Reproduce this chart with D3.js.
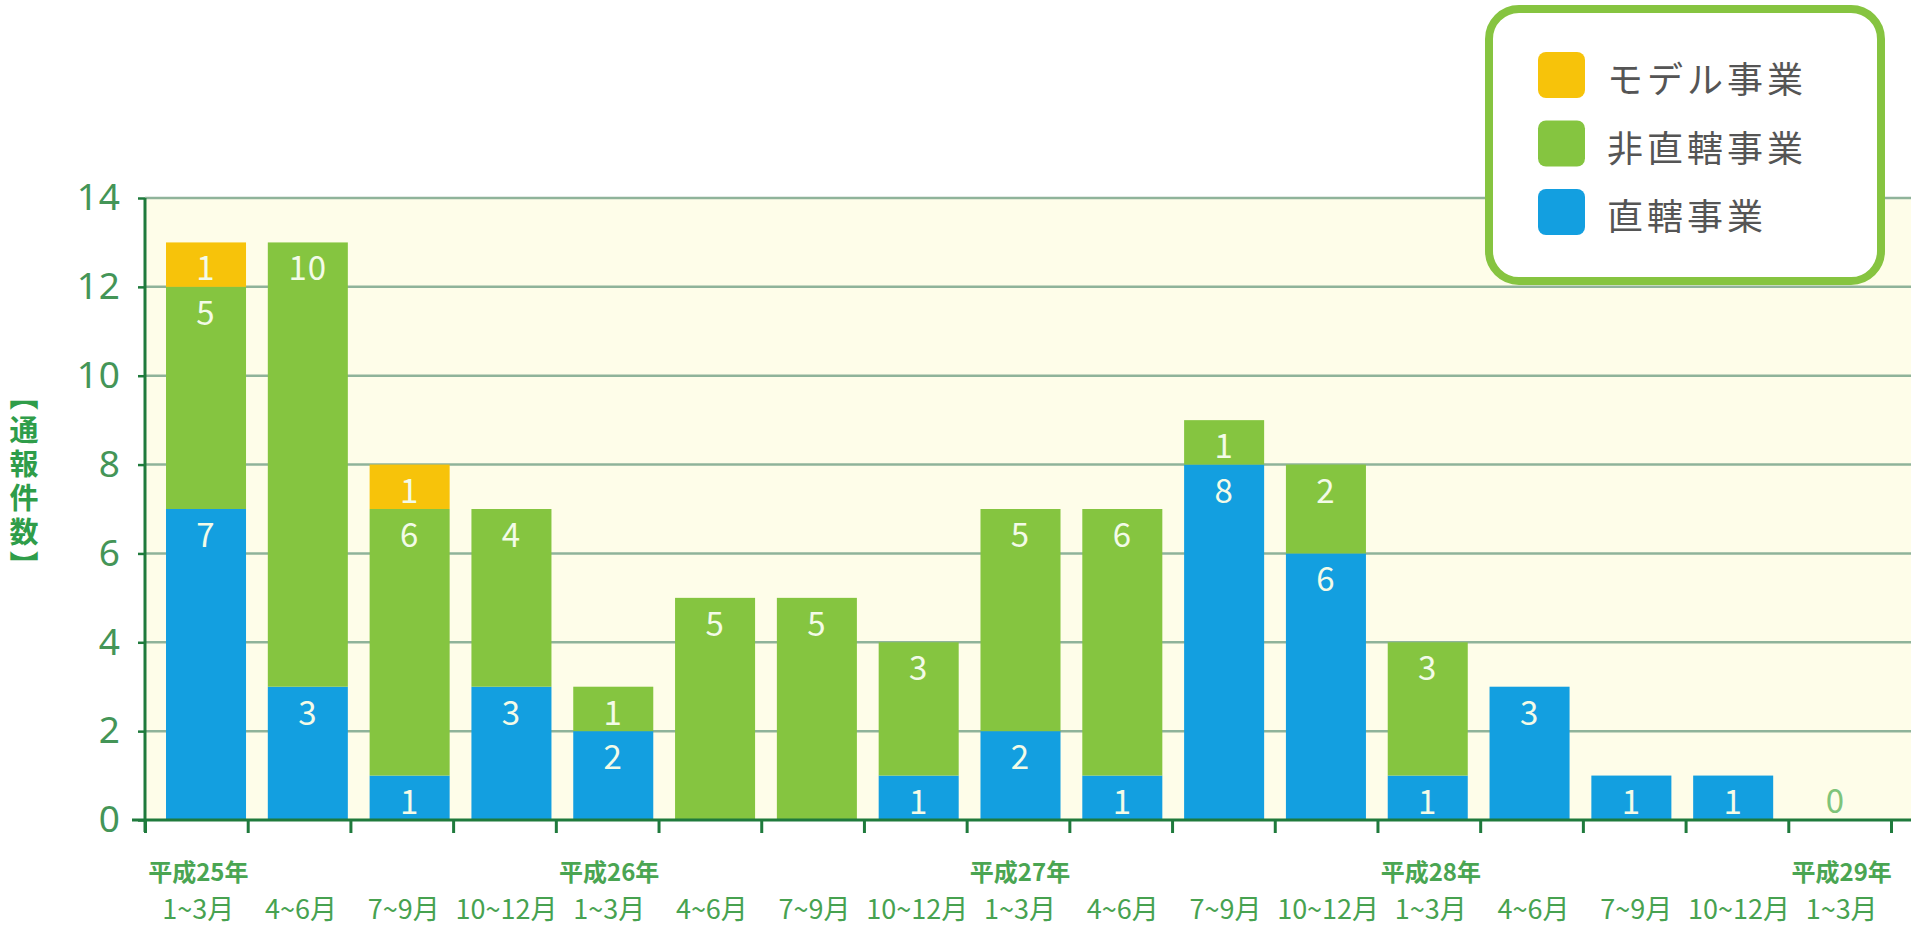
<!DOCTYPE html>
<html>
<head>
<meta charset="utf-8">
<script src="https://cdn.jsdelivr.net/npm/d3@7"></script>
<style>
  body { margin: 0; background: #fff; }
  svg { display: block; font-family: "Noto Sans CJK JP", "Noto Sans", sans-serif; }
</style>
</head>
<body>
<svg id="chart" width="1921" height="929"></svg>
<script>
// quarters on the x axis, year label shown under the first quarter of each year
const quarters = ["1~3月", "4~6月", "7~9月", "10~12月", "1~3月", "4~6月", "7~9月", "10~12月",
                  "1~3月", "4~6月", "7~9月", "10~12月", "1~3月", "4~6月", "7~9月", "10~12月", "1~3月"];
const years = ["平成25年", "", "", "", "平成26年", "", "", "", "平成27年", "", "", "",
               "平成28年", "", "", "", "平成29年"];

// series values (通報件数)
const direct   = [7, 3, 1, 3, 2, 0, 0, 1, 2, 1, 8, 6, 1, 3, 1, 1, 0];   // 直轄事業
const indirect = [5, 10, 6, 4, 1, 5, 5, 3, 5, 6, 1, 2, 3, 0, 0, 0, 0];  // 非直轄事業
const model    = [1, 0, 1, 0, 0, 0, 0, 0, 0, 0, 0, 0, 0, 0, 0, 0, 0];   // モデル事業

const yTicks = [0, 2, 4, 6, 8, 10, 12, 14];

const seriesNames = { direct: "直轄事業", indirect: "非直轄事業", model: "モデル事業" };
const colors = { direct: "#139fe0", indirect: "#85c540", model: "#f7c30a" };

const table = quarters.map((q, i) => ({ i: i, direct: direct[i], indirect: indirect[i], model: model[i] }));
const idx = table.map(d => d.i);

const svg = d3.select("#chart");

const y = d3.scaleLinear().domain([0, 14]).range([820, 198]);
const xTick = d3.scaleLinear().domain([0, quarters.length]).range([145, 1891]);
const xBar = d3.scaleBand().domain(idx).range([166, 1875]).paddingInner(0.214).paddingOuter(0);

const left = 145, right = 1911;

// plot background
svg.append("rect")
   .attr("x", left).attr("y", y(14))
   .attr("width", right - left).attr("height", y(0) - y(14))
   .attr("fill", "#fefde9");

// grid
svg.append("g")
   .selectAll("line")
   .data(yTicks.filter(t => t > 0))
   .join("line")
   .attr("x1", left).attr("x2", right)
   .attr("y1", d => y(d)).attr("y2", d => y(d))
   .attr("stroke", "#8fb39a")
   .attr("stroke-width", 2.5);

// bars
const stack = d3.stack().keys(["direct", "indirect", "model"]);
const layers = stack(table);

const barG = svg.append("g");
layers.forEach(layer => {
  barG.append("g")
      .attr("fill", colors[layer.key])
      .selectAll("rect")
      .data(layer)
      .join("rect")
      .attr("x", d => xBar(d.data.i))
      .attr("width", xBar.bandwidth())
      .attr("y", d => y(d[1]))
      .attr("height", d => y(d[0]) - y(d[1]));
});

// value labels
layers.forEach(layer => {
  barG.append("g")
      .selectAll("text")
      .data(layer.filter(d => d.data[layer.key] > 0))
      .join("text")
      .attr("x", d => xBar(d.data.i) + xBar.bandwidth() / 2)
      .attr("y", d => y(d[1]) + 24)
      .attr("text-anchor", "middle")
      .attr("dominant-baseline", "central")
      .attr("font-size", 33)
      .attr("letter-spacing", 1)
      .attr("fill", "#f3fbe8")
      .text(d => d.data[layer.key]);
});

// zero label for empty quarter
barG.append("g")
    .selectAll("text")
    .data(table.filter(d => d.direct + d.indirect + d.model === 0))
    .join("text")
    .attr("x", d => xBar(d.i) + xBar.bandwidth() / 2)
    .attr("y", y(0) - 21)
    .attr("text-anchor", "middle")
    .attr("dominant-baseline", "central")
    .attr("font-size", 33)
    .attr("fill", "#7fc47a")
    .text("0");

// x axis
const xAxis = d3.axisBottom(xTick)
                .tickValues(d3.range(quarters.length + 1))
                .tickSize(13)
                .tickFormat("");
const gx = svg.append("g")
   .attr("transform", `translate(0, ${y(0)})`)
   .call(xAxis);
gx.select(".domain").remove();
gx.selectAll(".tick line").attr("stroke", "#1f7a3c").attr("stroke-width", 3);
gx.append("line")
  .attr("x1", 132).attr("x2", right)
  .attr("stroke", "#1f7a3c").attr("stroke-width", 3);

// y axis
const yAxis = d3.axisLeft(y).tickValues(yTicks).tickSize(7).tickPadding(17);
const gy = svg.append("g")
   .attr("transform", `translate(${left}, 0)`)
   .call(yAxis);
gy.select(".domain").remove();
gy.selectAll(".tick line").attr("stroke", "#1f7a3c").attr("stroke-width", 2.5);
gy.selectAll(".tick text")
  .attr("font-size", 37)
  .attr("fill", "#449557")
  .attr("font-family", "Noto Sans, sans-serif")
  .attr("letter-spacing", 1);
gy.append("line")
  .attr("y1", y(14)).attr("y2", y(0) + 12)
  .attr("stroke", "#1f7a3c").attr("stroke-width", 3);

// x labels
const xl = svg.append("g").attr("text-anchor", "middle");
xl.selectAll("text.year")
  .data(years.map((t, i) => ({ t, i })).filter(d => d.t))
  .join("text")
  .attr("class", "year")
  .attr("x", d => xTick(d.i + 0.5) + 2)
  .attr("y", 881)
  .attr("font-size", 24)
  .attr("font-weight", "bold")
  .attr("fill", "#4aa552")
  .text(d => d.t);
xl.selectAll("text.q")
  .data(quarters)
  .join("text")
  .attr("class", "q")
  .attr("x", (d, i) => xTick(i + 0.5) + 2)
  .attr("y", 919)
  .attr("font-size", 27)
  .attr("fill", "#47a250")
  .text(d => d);

// y title
svg.append("text")
   .attr("x", 24)
   .attr("y", 483)
   .attr("text-anchor", "middle")
   .attr("font-size", 29)
   .attr("font-weight", "bold")
   .attr("letter-spacing", 5)
   .attr("fill", "#2f9d4a")
   .style("writing-mode", "vertical-rl")
   .text("【通報件数】");

// legend
const legend = svg.append("g");
legend.append("rect")
      .attr("x", 1489).attr("y", 9)
      .attr("width", 392).attr("height", 272)
      .attr("rx", 30)
      .attr("fill", "#fff")
      .attr("stroke", "#86c440")
      .attr("stroke-width", 8);
const legendKeys = ["model", "indirect", "direct"];
const ly = d3.scalePoint().domain(legendKeys).range([75, 212]);
const li = legend.selectAll("g.item")
      .data(legendKeys)
      .join("g")
      .attr("class", "item")
      .attr("transform", d => `translate(1538, ${ly(d)})`);
li.append("rect")
  .attr("x", 0).attr("y", -23)
  .attr("width", 47).attr("height", 46)
  .attr("rx", 8)
  .attr("fill", d => colors[d]);
li.append("text")
  .attr("x", 69).attr("y", 2)
  .attr("dominant-baseline", "central")
  .attr("font-size", 36)
  .attr("letter-spacing", 4)
  .attr("fill", "#555")
  .text(d => seriesNames[d]);
</script>
</body>
</html>
